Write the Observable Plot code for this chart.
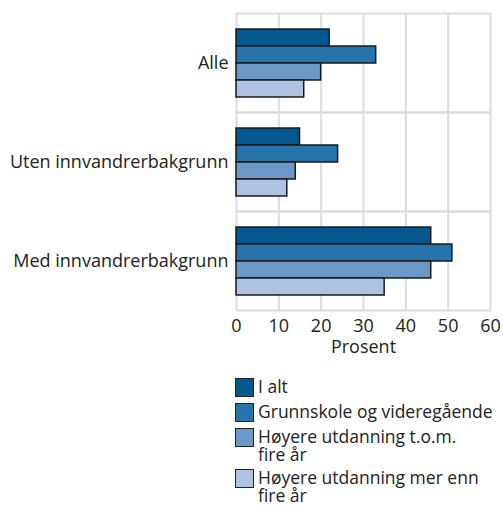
<!DOCTYPE html>
<html>
<head>
<meta charset="utf-8">
<script src="https://cdn.jsdelivr.net/npm/d3@7"></script>
<script src="https://cdn.jsdelivr.net/npm/@observablehq/plot@0.6"></script>
<style>
  body { margin: 0; background: #fff; font-family: "Open Sans", sans-serif; }
  #chart svg { display: block; }
  .legend { margin-left: 235px; margin-top: 16px; font-size: 17.5px; color: #222; }
  .item { display: flex; align-items: flex-start; margin-bottom: 6px; line-height: 17.5px; }
  .sw { width: 19px; height: 19px; border: 1px solid #222; box-sizing: border-box; flex: none; margin-right: 4px; margin-top: 0px; }
  .lbl { white-space: pre-line; }
</style>
</head>
<body>
<div id="chart"></div>
<script>
const categories = ["Alle", "Uten innvandrerbakgrunn", "Med innvandrerbakgrunn"];
const series = ["I alt", "Grunnskole og videregående", "Høyere utdanning t.o.m. fire år", "Høyere utdanning mer enn fire år"];
const legendLabels = ["I alt", "Grunnskole og videregående", "Høyere utdanning t.o.m.\nfire år", "Høyere utdanning mer enn\nfire år"];
const colors = ["#03588f", "#2774ad", "#6b98c6", "#adc3e1"];
const valuesIAlt = [22, 15, 46];
const valuesGrunnskole = [33, 24, 51];
const valuesTom = [20, 14, 46];
const valuesMerEnn = [16, 12, 35];
const xTicks = [0, 10, 20, 30, 40, 50, 60];

const seriesValues = [valuesIAlt, valuesGrunnskole, valuesTom, valuesMerEnn];
const data = [];
categories.forEach((c, i) => series.forEach((s, j) => data.push({category: c, series: s, value: seriesValues[j][i]})));

const chart = Plot.plot({
  width: 503,
  height: 362,
  marginLeft: 236,
  marginRight: 13,
  marginTop: 12,
  marginBottom: 52,
  style: {fontFamily: "Open Sans, sans-serif", fontSize: "18px", color: "#222"},
  x: {domain: [0, 60], ticks: xTicks, tickSize: 0, tickPadding: 9, label: "Prosent", labelAnchor: "center", labelArrow: "none", labelOffset: 42},
  y: {domain: series, paddingInner: 0, paddingOuter: 0.83, axis: null},
  fy: {domain: categories, padding: 0, label: null, tickSize: 0, tickPadding: 8},
  color: {domain: series, range: colors},
  marks: [
    Plot.gridX({ticks: xTicks, stroke: "#dcdcdc", strokeOpacity: 1, strokeWidth: 2}),
    Plot.frame({stroke: "#dcdcdc", strokeWidth: 2, anchor: "top"}),
    Plot.frame({stroke: "#dcdcdc", strokeWidth: 2, anchor: "bottom"}),
    Plot.barX(data, {fy: "category", y: "series", x: "value", fill: "series", stroke: "#1a1a1a", strokeWidth: 1.5, inset: 0}),
    Plot.axisFy({anchor: "left", tickSize: 0, tickPadding: 8, label: null, fontSize: 18})
  ]
});
document.getElementById("chart").appendChild(chart);

const legend = document.createElement("div");
legend.className = "legend";
legendLabels.forEach((l, i) => {
  const item = document.createElement("div");
  item.className = "item";
  const sw = document.createElement("div");
  sw.className = "sw";
  sw.style.background = colors[i];
  const t = document.createElement("div");
  t.className = "lbl";
  t.textContent = l;
  item.appendChild(sw);
  item.appendChild(t);
  legend.appendChild(item);
});
document.body.appendChild(legend);
</script>
</body>
</html>
